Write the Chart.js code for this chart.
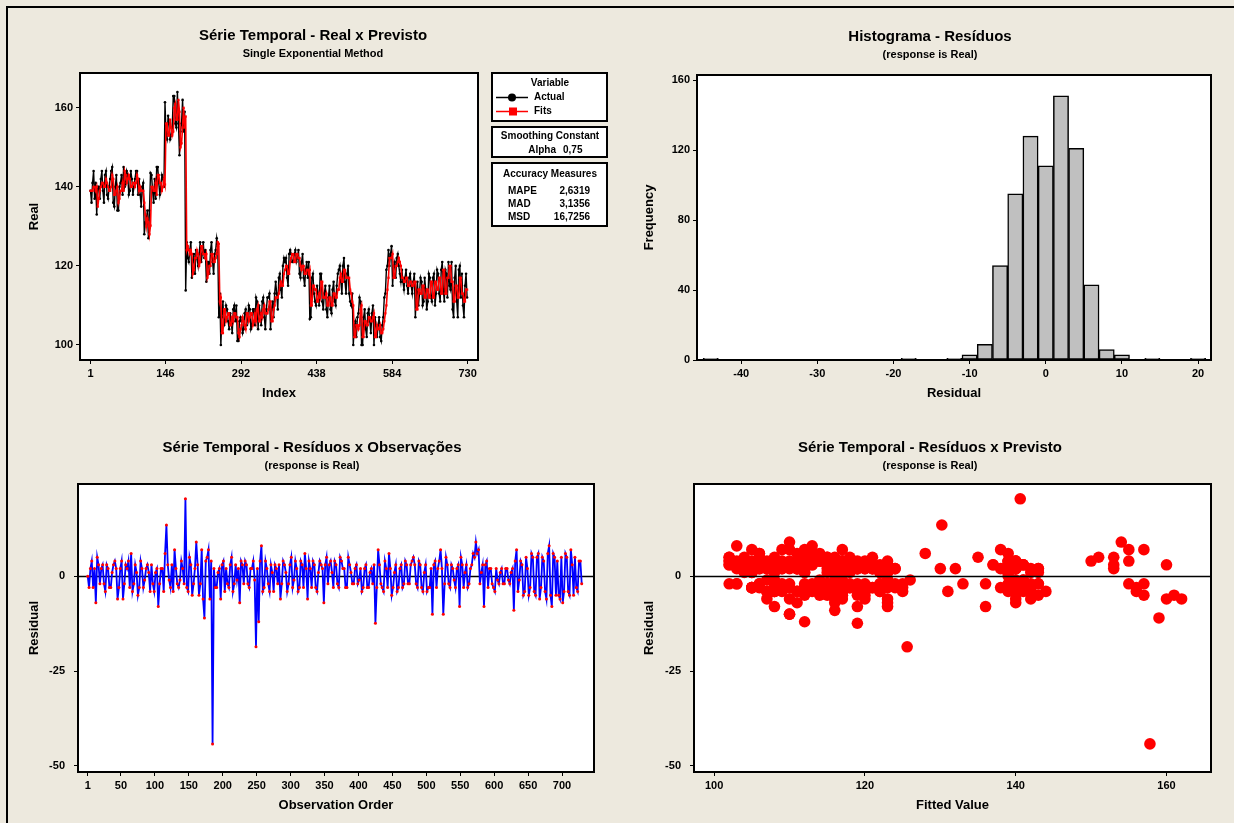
<!DOCTYPE html>
<html>
<head>
<meta charset="utf-8">
<script src="https://cdn.jsdelivr.net/npm/chart.js@4.4.1/dist/chart.umd.min.js"></script>
<style>
  html, body { margin: 0; padding: 0; background: #EDE9DE; }
  body { width: 1234px; height: 823px; position: relative; overflow: hidden; }
  canvas { position: absolute; }
  #frame { position: absolute; left: 6px; top: 6px; right: 0; bottom: 0; border-left: 2px solid #000; border-top: 2px solid #000; }
</style>
</head>
<body>
<div id="frame"></div>
<canvas id="tl" width="617" height="415" style="left:0;top:0"></canvas>
<canvas id="tr" width="617" height="415" style="left:617px;top:0"></canvas>
<canvas id="bl" width="617" height="408" style="left:0;top:415px"></canvas>
<canvas id="br" width="617" height="408" style="left:617px;top:415px"></canvas>
<script>
// values, one every 2nd observation
const STEP = 2;

const actual = [
  139,136,141,144,137,141,133,140,140,137,142,144,139,136,143,144,138,137,140,142,
  144,145,136,135,140,143,134,134,140,141,143,138,145,140,141,144,143,138,139,144,
  142,138,140,142,144,144,138,142,138,135,140,141,128,131,132,134,127,134,143.5,143,
  139,136,142,137,145,145,141,138,140,143,142,140,161.4,153,152,158,156,152,153,155,
  163,163,156,155,164,156,148,154,156,162,154,159,113.8,126,122,121,124,126,117,121,
  123,118,124,122,120,123,126,121,123,126,122,124,116,121,121,118,124,126,121,118,
  123,124,127,125,107,113,100,107,111,105,106,110,109,106,104,108,106,103,109,110,
  106,110,101,101,106,107,106,103,104,108,109,105,107,110,109,104,105,109,109,105,
  112,111,104,110,108,105,111,112,107,104,109,112,112,113,104,109,111,107,113,116,
  113,109,117,118,114,112,120,122,121,122,117,115,123,124,123,121,121,123,124,121,
  122,124,118,117,121,123,117,115,119,121,117,121,106.6,107,117,118,113,111,110,115,
  113,110,118,118,111,109,113,115,109,107,112,115,109,108,114,116,111,110,115,118,
  119,120,116,113,120,122,116,113,118,120,113,111,110,113,100,105,106,102,107,108,
  112,111,100,100,107,109,104,102,108,109,106,103,108,110,100,107,105,102,105,107,
  102,101,105,107,112,113,119,120,124,120,123,125,115,120,121,117,122,123,120,118,
  116,119,116,114,117,119,115,113,117,118,115,113,116,118,107,113,116,110,113,117,
  116,110,111,117,114,109,111,118,117,112,111,117,118,110,113,119,118,113,111,119,
  121,114,111,119,118,112,121,115,114,121,109,107,117,120,111,107,119,120,112,118,
  110,107,115,118,112
];

const fits = [
  139,139,139,140,140,139,140,135,137,139,140,141,141,140,140,142,141,140,139,139,
  140,143,142,138,138,139,140,136,137,139,139,141,139,144,143,141,142,143,142,140,
  140,141,141,140,141,143,142,139,140,139,139,139,136,133,130,132,131,128,130.2,140,
  140,139,139,141,138,143,143,141,141,139,140,142,140.6,156,156,153,153,157,155,153,
  154,160,161,157,157,162,159,150,151,155,160,155,157.8,124,125,124,123,124,123,118,
  119,122,122,124,123,120,121,125,125,123,123,122,123,117,118,120,120,123,123,121,
  121,122,123,126,125.6,111,112,103,103,109,109,106,107,108,108,105,105,107,106,108,
  108,107,107,103,102,104,105,107,106,105,104,108,108,106,107,108,108,105,106,108,
  106,109,110,106,106,108,107,109,110,108,108,108,109,111,111,106,106,109,110,112,
  112,112,113,115,116,115,115,118,119,120,120,118,118,121,122,123,123,121,121,123,
  123,122,122,120,119,120,120,118,118,119,119,118,119,110,110,115,115,114,114,111,
  111,113,112,116,116,112,112,112,113,110,110,112,112,110,110,113,113,112,112,114,
  114,117,118,116,116,119,119,117,117,117,117,114,113,111,110,102,102,105,105,104,
  105,109,110,102,102,106,106,105,105,107,107,106,106,107,108,102,102,105,104,104,
  105,103,103,104,106,108,110,114,117,122,122,122,123,117,117,120,120,121,122,121,
  120,117,117,116,116,117,117,115,115,116,116,115,115,116,116,109,109,114,114,113,
  113,115,115,112,112,114,114,112,112,116,116,112,112,116,116,114,114,117,117,113,
  113,119,119,113,113,117,117,120,120,116,116,111,111,115,115,112,112,117,117,113,
  113,111,111,114,114
];

const resid = [
  0,-3,2,4,-3,2,-7,5,3,-2,2,3,-2,-4,3,2,-3,-3,1,3,
  4,2,-6,-3,2,4,-6,-2,3,2,4,-3,6,-4,-2,3,1,-5,-3,4,
  2,-3,-1,2,3,1,-4,3,-2,-4,1,2,-8,-2,2,2,-4,6,13.5,3,
  -1,-3,3,-4,7,2,-2,-3,-1,4,2,-2,20.4,-3,-4,5,3,-5,-2,2,
  9,3,-5,-2,7,-6,-11,4,5,7,-6,4,-44.2,2,-3,-3,1,2,-6,3,
  4,-4,2,-2,-3,3,5,-4,-2,3,-1,2,-7,4,3,-2,4,3,-2,-3,
  2,2,4,-1,-18.6,2,-12,4,8,-4,-3,4,2,-2,-4,3,1,-4,3,2,
  -2,3,-6,-2,4,3,1,-4,-2,3,5,-3,-1,4,2,-4,-3,4,3,-3,
  6,2,-6,4,2,-3,4,3,-3,-4,1,4,3,2,-7,3,5,-2,3,4,
  1,-3,4,3,-2,-3,5,4,2,2,-3,-3,5,3,1,-2,-2,2,3,-2,
  -1,2,-4,-3,2,3,-3,-3,1,2,-2,3,-12.4,-3,7,3,-2,-3,-4,4,
  2,-3,6,2,-5,-3,1,3,-4,-3,2,3,-3,-2,4,3,-2,-2,3,4,
  5,3,-2,-3,4,3,-3,-4,1,3,-4,-3,-3,2,-10,3,4,-3,2,4,
  7,2,-10,-2,5,3,-2,-3,3,2,-1,-3,2,3,-8,5,3,-3,1,3,
  -3,-2,2,3,6,5,9,6,7,-2,1,3,-8,3,4,-3,2,2,-2,-3,
  -4,2,-1,-2,1,2,-2,-2,2,2,-1,-2,1,2,-9,4,7,-4,-1,4,
  3,-5,-4,5,2,-5,-3,6,5,-4,-5,5,6,-6,-3,5,4,-4,-6,6,
  8,-5,-8,6,5,-5,4,-5,-6,5,-7,-4,6,5,-4,-5,7,3,-5,5,
  -3,-4,4,4,-2
];

const histBins = [-44, -18, -12, -10, -8, -6, -4, -2, 0, 2, 4, 6, 8, 10, 14, 20];
const histCounts = [1, 1, 1, 3, 9, 54, 95, 128, 111, 151, 121, 43, 6, 3, 1, 1];

const tsXTicks = [1, 146, 292, 438, 584, 730];
const tsYTicks = [100, 120, 140, 160];
const histXTicks = [-40, -30, -20, -10, 0, 10, 20];
const histYTicks = [0, 40, 80, 120, 160];
const orderXTicks = [1, 50, 100, 150, 200, 250, 300, 350, 400, 450, 500, 550, 600, 650, 700];
const fittedXTicks = [100, 120, 140, 160];
const residYTicks = [-50, -25, 0];

const obsIdx = actual.map((_, i) => 1 + i * STEP);

Chart.defaults.font.family = "'Liberation Sans', Arial, sans-serif";
Chart.defaults.color = '#000';

const FONT = "'Liberation Sans', Arial, sans-serif";

function axis(min, max, ticks, size, pad) {
  return {
    type: 'linear', min, max, offset: false,
    afterBuildTicks: (s) => { s.ticks = ticks.map(v => ({ value: v })); },
    afterFit: (s) => { if (s.isHorizontal()) s.height = size; else s.width = size; },
    grid: { display: true, offset: false, drawOnChartArea: false, drawTicks: true, tickLength: 4, color: '#000', lineWidth: 1 },
    border: { display: false },
    ticks: { color: '#000', font: { size: 11, weight: 'bold' }, padding: pad || 3, maxRotation: 0, autoSkip: false, callback: v => String(v) }
  };
}

function txt(ctx, s, x, y, font, align, rot) {
  ctx.save();
  ctx.font = font;
  ctx.fillStyle = '#000';
  ctx.textAlign = align || 'center';
  ctx.textBaseline = 'middle';
  ctx.translate(x, y);
  if (rot) ctx.rotate(rot);
  ctx.fillText(s, 0, 0);
  ctx.restore();
}

function zeroLine(chart) {
  const { ctx, chartArea: a, scales } = chart;
  const py = Math.round(scales.y.getPixelForValue(0)) + 0.5;
  ctx.save();
  ctx.strokeStyle = '#000';
  ctx.lineWidth = 1.5;
  ctx.beginPath();
  ctx.moveTo(a.left, py);
  ctx.lineTo(a.right, py);
  ctx.stroke();
  ctx.restore();
}

function drawLegend(ctx) {
  ctx.save();
  ctx.lineWidth = 2;
  ctx.strokeStyle = '#000';
  ctx.fillStyle = '#fff';
  [[492, 73, 115, 48], [492, 127, 115, 30], [492, 163, 115, 63]].forEach(([x, y, w, h]) => {
    ctx.fillRect(x, y, w, h);
    ctx.strokeRect(x, y, w, h);
  });
  const f = 'bold 10px ' + FONT;
  txt(ctx, 'Variable', 550, 83, f);
  ctx.lineWidth = 1.5;
  ctx.strokeStyle = '#000';
  ctx.beginPath(); ctx.moveTo(496, 97.5); ctx.lineTo(528, 97.5); ctx.stroke();
  ctx.fillStyle = '#000';
  ctx.beginPath(); ctx.arc(512, 97.5, 4, 0, Math.PI * 2); ctx.fill();
  txt(ctx, 'Actual', 534, 97.5, f, 'left');
  ctx.strokeStyle = '#f00';
  ctx.beginPath(); ctx.moveTo(496, 111.5); ctx.lineTo(528, 111.5); ctx.stroke();
  ctx.fillStyle = '#f00';
  ctx.fillRect(509, 107.5, 8, 8);
  txt(ctx, 'Fits', 534, 111.5, f, 'left');
  txt(ctx, 'Smoothing Constant', 550, 136, f);
  txt(ctx, 'Alpha', 556, 150.5, f, 'right');
  txt(ctx, '0,75', 563, 150.5, f, 'left');
  txt(ctx, 'Accuracy Measures', 550, 174.5, f);
  [['MAPE', '2,6319', 191.5], ['MAD', '3,1356', 204.5], ['MSD', '16,7256', 217.5]].forEach(([k, v, y]) => {
    txt(ctx, k, 508, y, f, 'left');
    txt(ctx, v, 590, y, f, 'right');
  });
  ctx.restore();
}

const minitab = {
  id: 'minitab',
  beforeDraw(chart) {
    const { ctx, chartArea: a } = chart;
    ctx.save();
    ctx.fillStyle = '#fff';
    ctx.fillRect(a.left, a.top, a.width, a.height);
    ctx.restore();
  },
  beforeDatasetsDraw(chart, args, o) {
    if (o.zero === 'under') zeroLine(chart);
  },
  afterDraw(chart, args, o) {
    const { ctx, chartArea: a } = chart;
    if (o.zero === 'over') zeroLine(chart);
    ctx.save();
    ctx.strokeStyle = '#000';
    ctx.lineWidth = 2;
    ctx.strokeRect(a.left, a.top, a.width, a.height);
    ctx.restore();
    txt(ctx, o.title, o.titleX, o.titleY, 'bold 15px ' + FONT);
    txt(ctx, o.subtitle, o.titleX, o.titleY + 18, 'bold 11px ' + FONT);
    txt(ctx, o.xTitle, (a.left + a.right) / 2, o.xTitleY, 'bold 13px ' + FONT);
    txt(ctx, o.yTitle, o.yTitleX, (a.top + a.bottom) / 2, 'bold 13px ' + FONT, 'center', -Math.PI / 2);
    if (o.legend) drawLegend(ctx);
  }
};

const base = {
  responsive: false,
  animation: false,
  devicePixelRatio: 1,
  events: [],
  plugins: { legend: { display: false }, tooltip: { enabled: false } }
};

// Série Temporal - Real x Previsto
new Chart(document.getElementById('tl'), {
  type: 'line',
  plugins: [minitab],
  data: {
    datasets: [
      { label: 'Fits', data: fits.map((v, i) => ({ x: obsIdx[i], y: v })), borderColor: '#f00', backgroundColor: '#f00',
        borderWidth: 1.6, tension: 0, pointStyle: 'rect', pointRadius: 1.6, pointBorderWidth: 0, order: 0 },
      { label: 'Actual', data: actual.map((v, i) => ({ x: obsIdx[i], y: v })), borderColor: '#000', backgroundColor: '#000',
        borderWidth: 1.4, tension: 0, pointRadius: 1.3, pointBorderWidth: 0, order: 1 }
    ]
  },
  options: {
    ...base,
    layout: { padding: { left: 30, top: 73, right: 139, bottom: 15 } },
    scales: { x: axis(-19.3, 750.1, tsXTicks, 40), y: axis(96.2, 168.8, tsYTicks, 50) },
    plugins: { ...base.plugins, minitab: {
      title: 'Série Temporal - Real x Previsto', subtitle: 'Single Exponential Method', titleX: 313, titleY: 36,
      xTitle: 'Index', xTitleY: 393, yTitle: 'Real', yTitleX: 34, legend: true } }
  }
});

// Histograma - Resíduos
new Chart(document.getElementById('tr'), {
  type: 'bar',
  plugins: [minitab],
  data: {
    datasets: [{ data: histBins.map((b, i) => ({ x: b, y: histCounts[i] })), backgroundColor: '#c0c0c0', borderColor: '#000',
      borderWidth: 1.5, borderSkipped: false, barPercentage: 1, categoryPercentage: 1 }]
  },
  options: {
    ...base,
    layout: { padding: { left: 30, top: 75, right: 23, bottom: 15 } },
    scales: { x: axis(-45.8, 21.7, histXTicks, 40), y: axis(0, 162.9, histYTicks, 50) },
    plugins: { ...base.plugins, minitab: {
      title: 'Histograma - Resíduos', subtitle: '(response is Real)', titleX: 313, titleY: 37,
      xTitle: 'Residual', xTitleY: 393, yTitle: 'Frequency', yTitleX: 32 } }
  }
});

// Série Temporal - Resíduos x Observações
new Chart(document.getElementById('bl'), {
  type: 'line',
  plugins: [minitab],
  data: {
    datasets: [{ data: resid.map((v, i) => ({ x: obsIdx[i], y: v })), borderColor: '#00f', borderWidth: 1.8, tension: 0,
      pointRadius: 1.5, pointBorderWidth: 0, pointBackgroundColor: '#f00' }]
  },
  options: {
    ...base,
    layout: { padding: { left: 28, top: 69, right: 23, bottom: 11 } },
    scales: { x: axis(-13.3, 747.1, orderXTicks, 40), y: axis(-51.6, 24.3, residYTicks, 50, 9) },
    plugins: { ...base.plugins, minitab: {
      title: 'Série Temporal - Resíduos x Observações', subtitle: '(response is Real)', titleX: 312, titleY: 33,
      xTitle: 'Observation Order', xTitleY: 390, yTitle: 'Residual', yTitleX: 34, zero: 'under' } }
  }
});

// Série Temporal - Resíduos x Previsto
new Chart(document.getElementById('br'), {
  type: 'scatter',
  plugins: [minitab],
  data: {
    datasets: [{ data: fits.map((f, i) => ({ x: f, y: resid[i] })), backgroundColor: '#f00', pointRadius: 5.8, pointBorderWidth: 0 }]
  },
  options: {
    ...base,
    layout: { padding: { left: 27, top: 69, right: 23, bottom: 11 } },
    scales: { x: axis(97.33, 165.9, fittedXTicks, 40), y: axis(-51.6, 24.3, residYTicks, 50, 9) },
    plugins: { ...base.plugins, minitab: {
      title: 'Série Temporal - Resíduos x Previsto', subtitle: '(response is Real)', titleX: 313, titleY: 33,
      xTitle: 'Fitted Value', xTitleY: 390, yTitle: 'Residual', yTitleX: 32, zero: 'over' } }
  }
});
</script>
</body>
</html>
